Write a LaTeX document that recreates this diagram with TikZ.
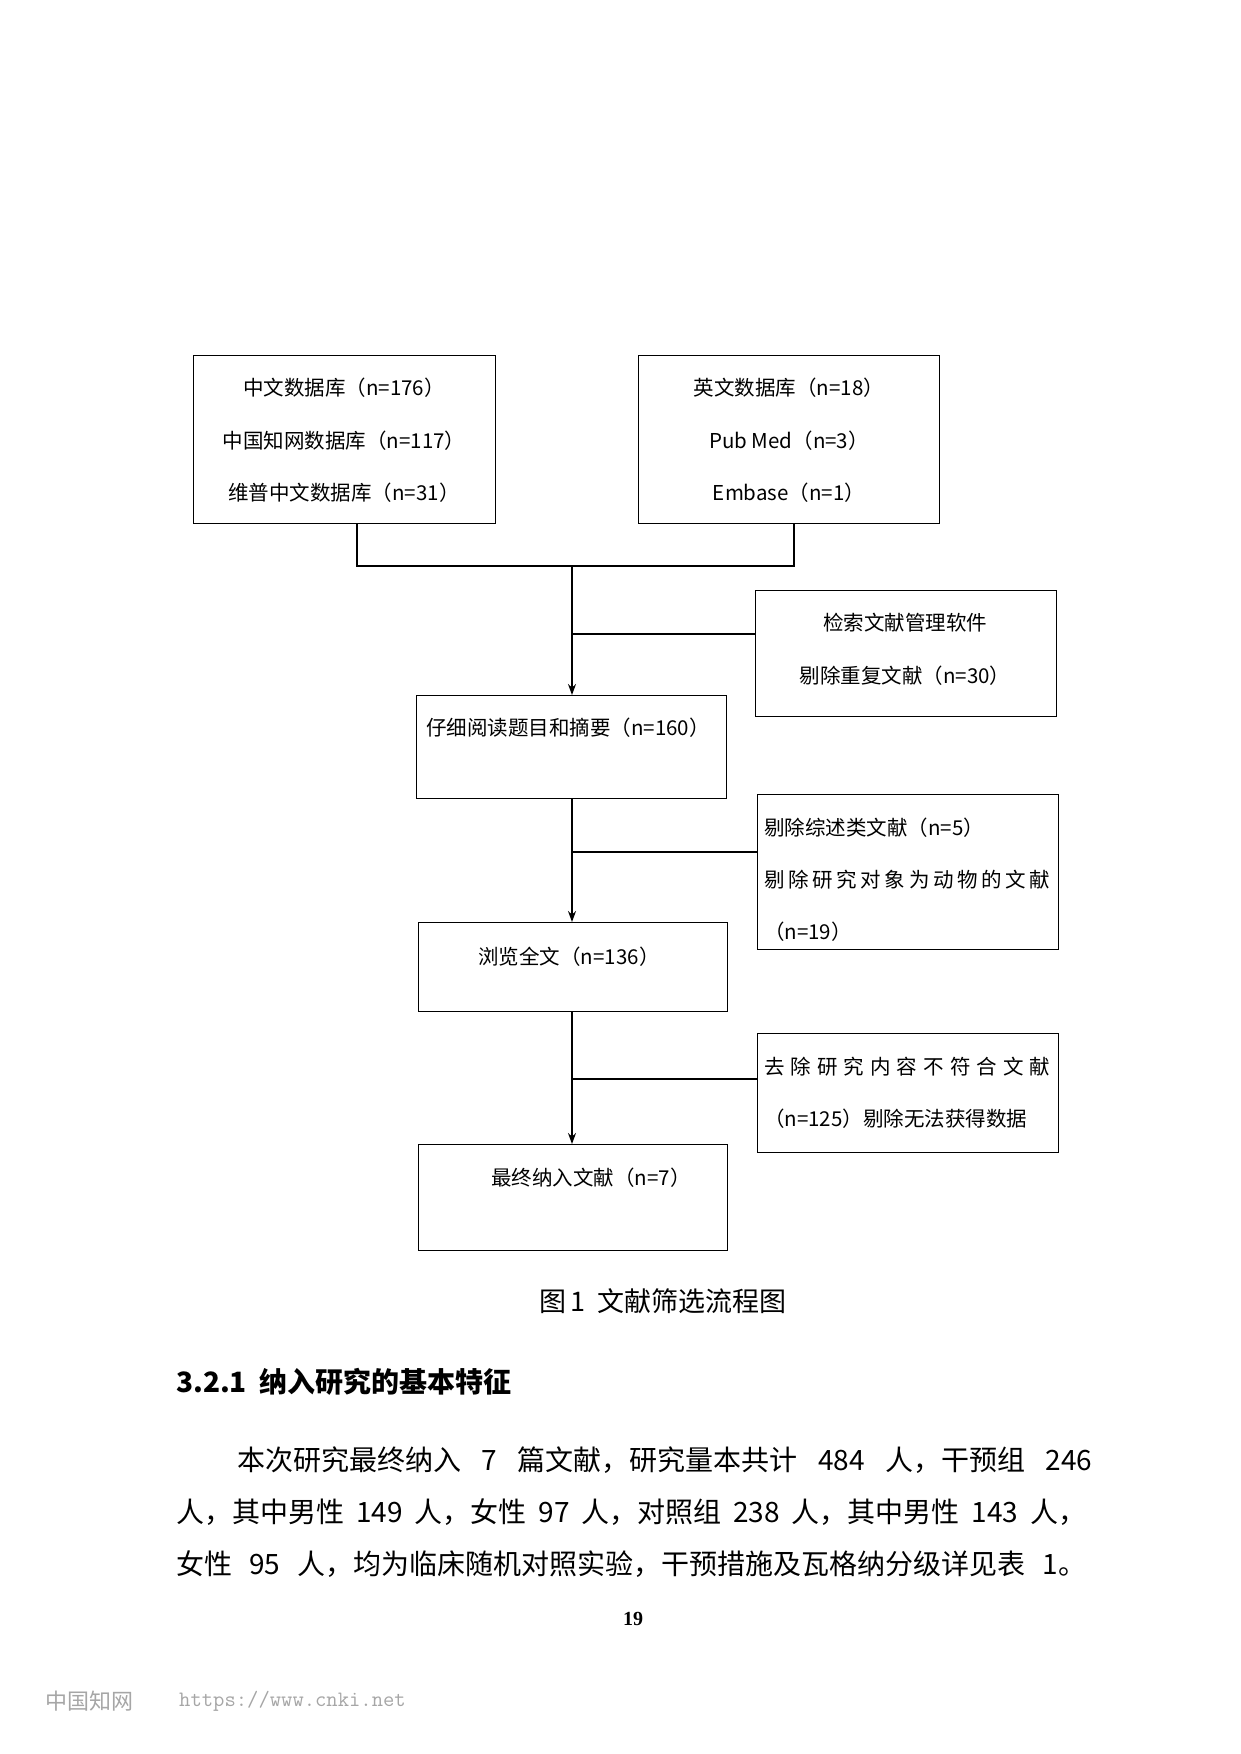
\documentclass[tikz,border=0pt]{standalone}
\usepackage{fontspec}
\setmainfont{Liberation Serif}
\newfontfamily\cjk{Noto Sans CJK SC}
\usetikzlibrary{positioning,calc,arrows.meta}
\tikzset{
  box/.style={draw, line width=1.3pt, anchor=north west, inner sep=0pt},
  flow/.style={line width=1.3pt},
  txt/.style={font=\cjk\fontsize{20.5}{24}\selectfont, inner sep=0pt},
  body/.style={font=\cjk\fontsize{28}{32}\selectfont, inner sep=0pt, anchor=west},
}
\begin{document}
\begin{tikzpicture}[x=1pt, y=-1pt]
            \useasboundingbox (0,0) rectangle (1240,1754);
            % Kaesten.
            \node[box, minimum width=302, minimum height=168] (cn) at (193,355) {};
            \node[box, minimum width=301, minimum height=168] (en) at (638,355) {};
            \node[box, minimum width=310, minimum height=103] (read) at (416,695) {};
            \node[box, minimum width=309, minimum height=89] (full) at (418,922) {};
            \node[box, minimum width=309, minimum height=106] (final) at (418,1144) {};
            \node[box, minimum width=301, minimum height=126] (dup) at (755,590) {};
            \node[box, minimum width=301, minimum height=155] (rev) at (757,794) {};
            \node[box, minimum width=301, minimum height=119] (cont) at (757,1033) {};

            % Beschriftung.
            \node[txt] at (344,388) {中文数据库（n=176）};
            \node[txt] at (344,441) {中国知网数据库（n=117）};
            \node[txt] at (344,493) {维普中文数据库（n=31）};
            \node[txt] at (789,388) {英文数据库（n=18）};
            \node[txt] at (789,441) {Pub Med（n=3）};
            \node[txt] at (789,493) {Embase（n=1）};
            \node[txt] at (905,623) {检索文献管理软件};
            \node[txt] at (905,676) {剔除重复文献（n=30）};
            \node[txt] at (568,728) {仔细阅读题目和摘要（n=160）};
            \node[txt, anchor=west] at (764,828) {剔除综述类文献（n=5）};
            \node[txt, anchor=west] at (764,880) {\makebox[286pt][s]{剔 除 研 究 对 象 为 动 物 的 文 献}};
            \node[txt, anchor=west] at (764,932) {（n=19）};
            \node[txt] at (569,957) {浏览全文（n=136）};
            \node[txt, anchor=west] at (764,1067) {\makebox[286pt][s]{去 除 研 究 内 容 不 符 合 文 献}};
            \node[txt, anchor=west] at (764,1119) {\makebox[286pt][s]{（n=125）剔除无法获得数据}};
            \node[txt] at (591,1178) {最终纳入文献（n=7）};

            % Linien.
            \coordinate (join) at (572,566);
            \coordinate (d1) at (572,634);
            \coordinate (d2) at (572,852);
            \coordinate (d3) at (572,1079);
            \draw[flow] (cn.south -| 357,0) |- (join) -| (en.south -| 794,0);
            \draw[flow, -{Stealth[length=11pt, width=8pt]}] (join) -- (read.north -| join);
            \draw[flow] (d1) -- (d1 -| dup.west);
            \draw[flow, -{Stealth[length=11pt, width=8pt]}] (read.south -| join) -- (full.north -| join);
            \draw[flow] (d2) -- (d2 -| rev.west);
            \draw[flow, -{Stealth[length=11pt, width=8pt]}] (full.south -| join) -- (final.north -| join);
            \draw[flow] (d3) -- (d3 -| cont.west);

            % Text.
            \node[font=\cjk\fontsize{27}{30}\selectfont, inner sep=0pt] (cap) at (663,1301) {图\,1\ \ 文献筛选流程图};
            \node[body, font=\cjk\bfseries\fontsize{28}{32}\selectfont] (head) at (176,1382) {3.2.1\ \ 纳入研究的基本特征};
            \node[body] (p1) at (237,1460) {\makebox[855pt][s]{本次研究最终纳入 7 篇文献，研究量本共计 484 人，干预组 246}};
            \node[body] (p2) at (176,1512) {\makebox[910pt][s]{人，其中男性 149 人，女性 97 人，对照组 238 人，其中男性 143 人，}};
            \node[body] (p3) at (176,1564) {\makebox[910pt][s]{女性 95 人，均为临床随机对照实验，干预措施及瓦格纳分级详见表 1。}};
            \node[font=\bfseries\fontsize{20}{24}\selectfont, inner sep=0pt] (page) at (633,1619) {19};
            \node[body, font=\cjk\fontsize{22}{26}\selectfont, text=black!35] (wm) at (45,1701) {中国知网};
            \node[body, font=\ttfamily\fontsize{22}{26}\selectfont, text=black!35] (url) at (179,1701) {https://www.cnki.net};
\end{tikzpicture}
\end{document}
